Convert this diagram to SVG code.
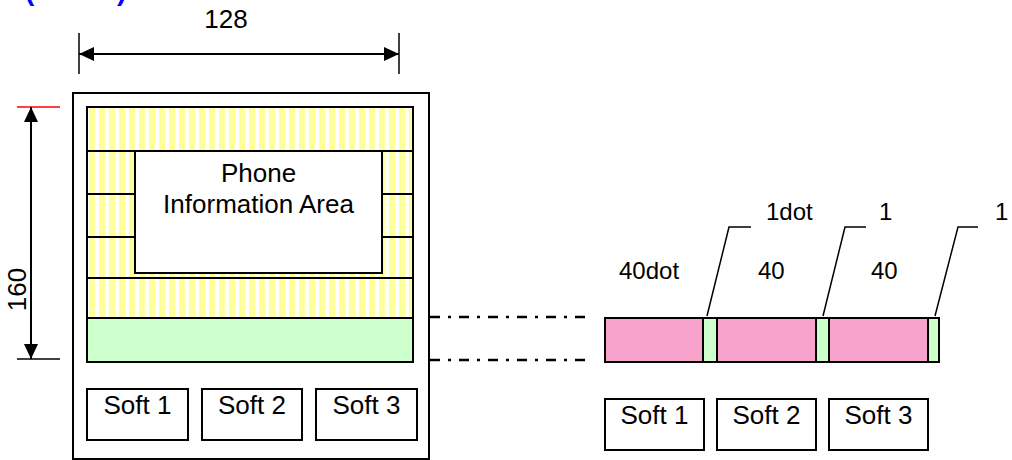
<svg xmlns="http://www.w3.org/2000/svg" width="1012" height="460" viewBox="0 0 1012 460">
<style>
text{font-family:"Liberation Sans",Arial,sans-serif;fill:#000}
.t26{font-size:26px}
.t24{font-size:24px}
.box{fill:#fff;stroke:#000;stroke-width:2}
.ln{stroke:#000;stroke-width:2;fill:none}
.thin{stroke:#000;stroke-width:1.5;fill:none}
.dd{stroke:#000;stroke-width:2.5;fill:none;stroke-dasharray:10 8 3 8}
.pink{fill:#F8A3CB;stroke:#000;stroke-width:2}
.green{fill:#CCFFCC;stroke:#000;stroke-width:2}
.paren{font-size:28px;font-weight:bold;fill:#0000FF}
</style>
<defs>
<pattern id="stripes" x="87" y="0" width="10" height="10" patternUnits="userSpaceOnUse">
<rect width="10" height="10" fill="#fff"/>
<rect x="2" width="6" height="10" fill="#FFFF99"/>
</pattern>
<marker id="ah" viewBox="0 0 15 14" refX="15" refY="7" markerWidth="15" markerHeight="14" markerUnits="userSpaceOnUse" orient="auto-start-reverse">
<path d="M0,0 L15,7 L0,14 Z" fill="#000"/>
</marker>
</defs>

<g id="title-parens">
<text class="paren" x="25" y="0">(</text>
<text class="paren" x="117" y="0">)</text>
</g>

<g id="phone">
<rect class="box" x="73" y="93" width="356" height="366"/>
<rect x="87" y="107" width="326" height="211" fill="url(#stripes)" stroke="#000" stroke-width="2"/>
<line class="ln" x1="87" y1="151" x2="413" y2="151"/>
<line class="ln" x1="87" y1="194" x2="135" y2="194"/>
<line class="ln" x1="382" y1="194" x2="413" y2="194"/>
<line class="ln" x1="87" y1="237" x2="135" y2="237"/>
<line class="ln" x1="382" y1="237" x2="413" y2="237"/>
<line class="ln" x1="87" y1="278" x2="413" y2="278"/>
</g>

<g id="info-area">
<rect class="box" x="135" y="151" width="247" height="122"/>
<text class="t26" x="258.5" y="182" text-anchor="middle">Phone</text>
<text class="t26" x="258.5" y="213" text-anchor="middle">Information Area</text>
</g>

<g id="softkey-area-left">
<rect class="green" x="87" y="318" width="326" height="44"/>
</g>

<g id="soft1-left"><rect class="box" x="87" y="389" width="101" height="51"/><text class="t26" x="137.5" y="414" text-anchor="middle">Soft 1</text></g>
<g id="soft2-left"><rect class="box" x="202" y="389" width="100" height="51"/><text class="t26" x="252" y="414" text-anchor="middle">Soft 2</text></g>
<g id="soft3-left"><rect class="box" x="316" y="389" width="101" height="51"/><text class="t26" x="366.5" y="414" text-anchor="middle">Soft 3</text></g>

<g id="softkey-bar">
<rect class="pink" x="605" y="318" width="98" height="44"/>
<rect class="green" x="703" y="318" width="14" height="44"/>
<rect class="pink" x="717" y="318" width="99" height="44"/>
<rect class="green" x="816" y="318" width="13" height="44"/>
<rect class="pink" x="829" y="318" width="99" height="44"/>
<rect class="green" x="928" y="318" width="11" height="44"/>
</g>

<g id="soft1-right"><rect class="box" x="605" y="399" width="99" height="51"/><text class="t26" x="654.5" y="424" text-anchor="middle">Soft 1</text></g>
<g id="soft2-right"><rect class="box" x="717" y="399" width="99" height="51"/><text class="t26" x="766.5" y="424" text-anchor="middle">Soft 2</text></g>
<g id="soft3-right"><rect class="box" x="829" y="399" width="99" height="51"/><text class="t26" x="878.5" y="424" text-anchor="middle">Soft 3</text></g>

<g id="labels">
<text class="t26" x="226" y="28" text-anchor="middle">128</text>
<text class="t26" transform="translate(26,289.5) rotate(-90)" text-anchor="middle">160</text>
<text class="t24" x="619" y="279">40dot</text>
<text class="t24" x="758" y="279">40</text>
<text class="t24" x="871" y="279">40</text>
<text class="t24" x="766" y="220">1dot</text>
<text class="t24" x="879" y="220">1</text>
<text class="t24" x="995" y="220">1</text>
</g>

<g id="connectors">
<line class="thin" x1="79" y1="33" x2="79" y2="74"/>
<line class="thin" x1="399" y1="33" x2="399" y2="74"/>
<line class="ln" x1="79" y1="54" x2="399" y2="54" marker-start="url(#ah)" marker-end="url(#ah)"/>
<line x1="17" y1="107" x2="60" y2="107" stroke="#FF0000" stroke-width="1.5"/>
<line class="thin" x1="17" y1="359" x2="60" y2="359"/>
<line class="ln" x1="31" y1="107" x2="31" y2="359" marker-start="url(#ah)" marker-end="url(#ah)"/>
<line class="dd" x1="430" y1="317" x2="592" y2="317"/>
<line class="dd" x1="430" y1="360" x2="592" y2="360"/>
<polyline class="thin" points="707,316 729,227 751,227"/>
<polyline class="thin" points="823,316 845,227 866,227"/>
<polyline class="thin" points="935,316 958,227 978,227"/>
</g>
</svg>
